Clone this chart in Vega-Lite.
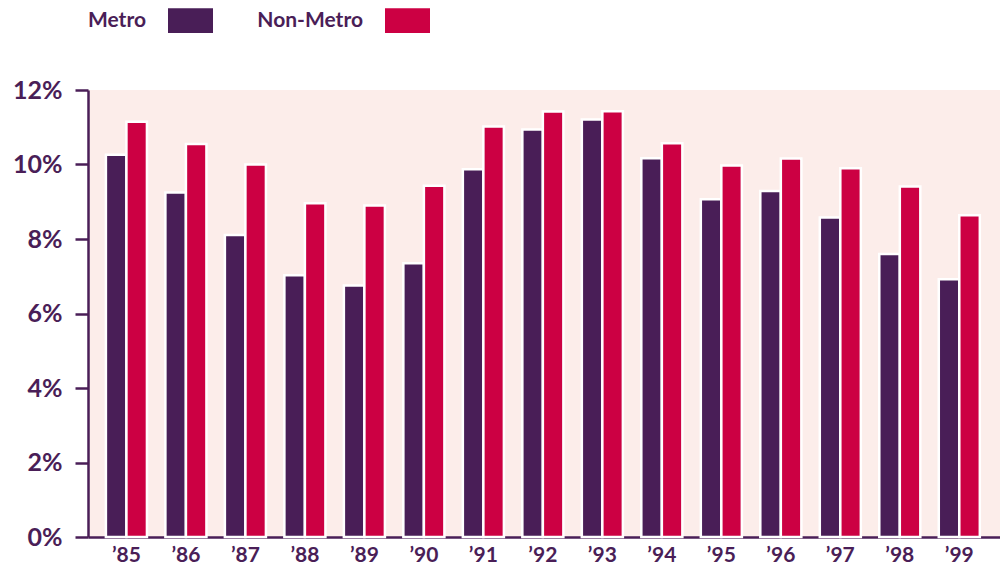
{
  "$schema": "https://vega.github.io/schema/vega-lite/v6.json",
  "width": 912,
  "height": 447,
  "autosize": {"type": "none"},
  "padding": {"left": 88, "right": 0, "top": 90, "bottom": 29},
  "background": "white",
  "data": {
    "values": [
      {"year": "’85", "series": "Metro", "value": 10.26},
      {"year": "’85", "series": "Non-Metro", "value": 11.15},
      {"year": "’86", "series": "Metro", "value": 9.25},
      {"year": "’86", "series": "Non-Metro", "value": 10.55},
      {"year": "’87", "series": "Metro", "value": 8.11},
      {"year": "’87", "series": "Non-Metro", "value": 10.0},
      {"year": "’88", "series": "Metro", "value": 7.03},
      {"year": "’88", "series": "Non-Metro", "value": 8.96},
      {"year": "’89", "series": "Metro", "value": 6.75},
      {"year": "’89", "series": "Non-Metro", "value": 8.9},
      {"year": "’90", "series": "Metro", "value": 7.35},
      {"year": "’90", "series": "Non-Metro", "value": 9.43},
      {"year": "’91", "series": "Metro", "value": 9.87},
      {"year": "’91", "series": "Non-Metro", "value": 11.02},
      {"year": "’92", "series": "Metro", "value": 10.94},
      {"year": "’92", "series": "Non-Metro", "value": 11.42},
      {"year": "’93", "series": "Metro", "value": 11.21},
      {"year": "’93", "series": "Non-Metro", "value": 11.43},
      {"year": "’94", "series": "Metro", "value": 10.17},
      {"year": "’94", "series": "Non-Metro", "value": 10.57},
      {"year": "’95", "series": "Metro", "value": 9.07},
      {"year": "’95", "series": "Non-Metro", "value": 9.97},
      {"year": "’96", "series": "Metro", "value": 9.29},
      {"year": "’96", "series": "Non-Metro", "value": 10.16},
      {"year": "’97", "series": "Metro", "value": 8.58},
      {"year": "’97", "series": "Non-Metro", "value": 9.9},
      {"year": "’98", "series": "Metro", "value": 7.6},
      {"year": "’98", "series": "Non-Metro", "value": 9.41},
      {"year": "’99", "series": "Metro", "value": 6.92},
      {"year": "’99", "series": "Non-Metro", "value": 8.64}
    ]
  },
  "mark": {"type": "bar", "stroke": "white", "strokeWidth": 2.5},
  "encoding": {
    "x": {
      "field": "year", "type": "nominal", "sort": null,
      "scale": {"paddingInner": 0.31, "paddingOuter": 0.32, "align": 0.47},
      "axis": {
        "title": null, "labelAngle": 0, "ticks": false,
        "domainColor": "#4a1e57", "domainWidth": 2.5,
        "labelColor": "#4a1e57", "labelFont": "Lato", "labelFontWeight": "bold",
        "labelFontSize": 21, "labelPadding": 7
      }
    },
    "xOffset": {"field": "series", "type": "nominal", "scale": {"paddingInner": 0, "paddingOuter": 0}},
    "y": {
      "field": "value", "type": "quantitative",
      "scale": {"domain": [0, 12], "nice": false},
      "axis": {
        "title": null, "values": [0, 2, 4, 6, 8, 10, 12],
        "labelExpr": "datum.value + '%'", "grid": false,
        "domainColor": "#4a1e57", "domainWidth": 2.5,
        "tickColor": "#4a1e57", "tickWidth": 2.5, "tickSize": 13,
        "labelColor": "#4a1e57", "labelFont": "Lato", "labelFontWeight": "bold",
        "labelFontSize": 25, "labelPadding": 13
      }
    },
    "color": {
      "field": "series", "type": "nominal",
      "scale": {"domain": ["Metro", "Non-Metro"], "range": ["#491e57", "#cc0043"]},
      "legend": {
        "title": null, "orient": "none", "legendX": 80, "legendY": -92,
        "direction": "horizontal",
        "symbolType": "M-1,-0.55H1V0.55H-1Z", "symbolSize": 2025,
        "symbolStrokeWidth": 0, "symbolOpacity": 1,
        "labelAlign": "right", "labelOffset": -67,
        "labelFont": "Lato", "labelFontWeight": "bold", "labelFontSize": 21,
        "labelColor": "#4a1e57", "columnPadding": 44
      }
    }
  },
  "config": {
    "view": {"fill": "#fcedea", "stroke": null}
  }
}
